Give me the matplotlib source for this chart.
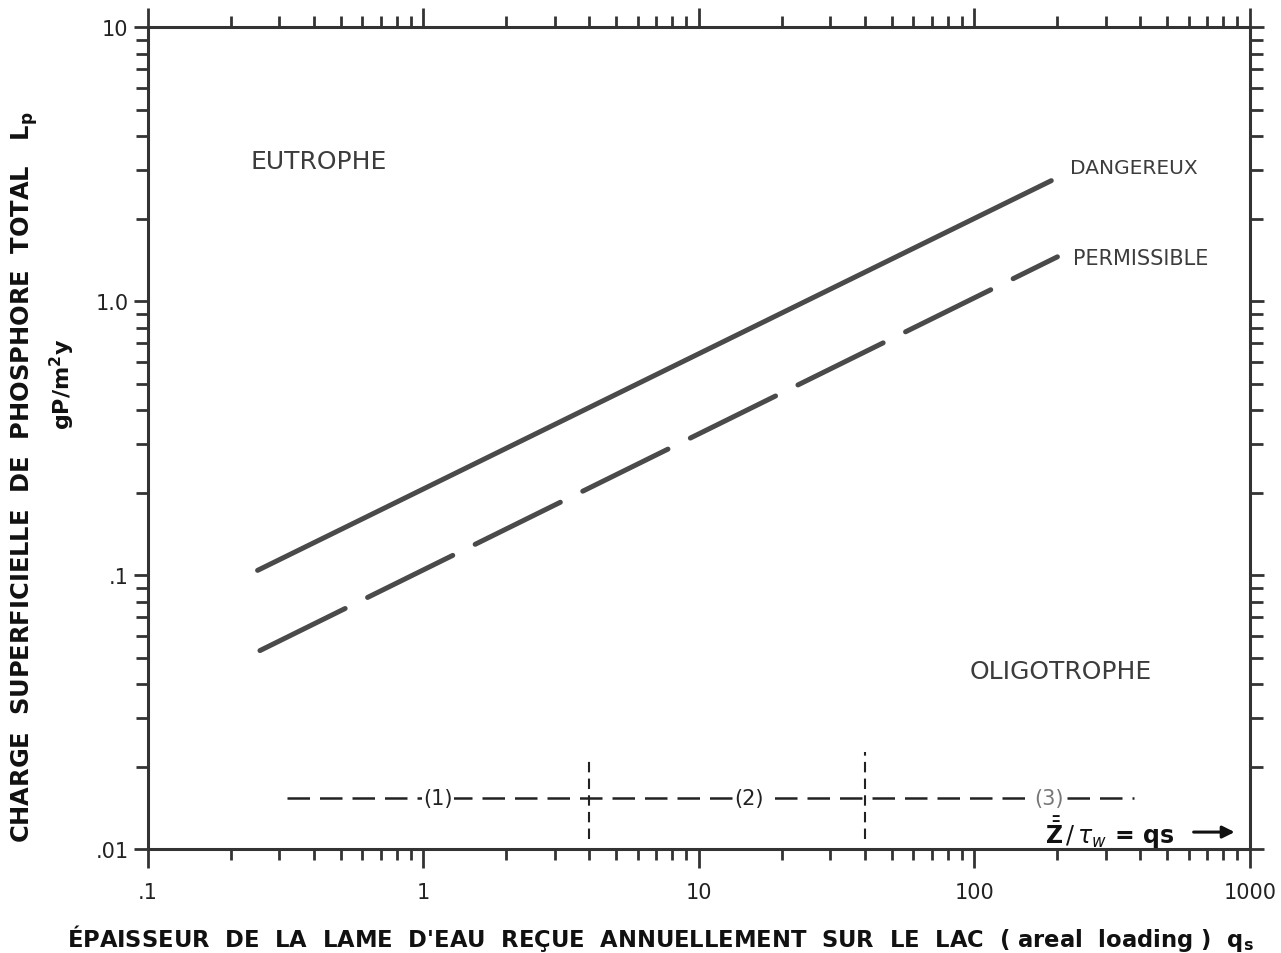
import numpy as np
import matplotlib
matplotlib.use("Agg")
from matplotlib import pyplot as plt
from matplotlib.ticker import FixedLocator, LogLocator, NullFormatter

# (log-log)
danger_x = [0.25, 190]
danger_y = [0.104, 2.75]
permis_x = [0.255, 200]
permis_y = [0.053, 1.45]

zone_x = [0.32, 380]
zone_y = [0.0153, 0.0153]
zone_bounds = [4, 40]
zone_tops = [0.0213, 0.0226]
zone_labels = ["(1)", "(2)", "(3)"]
zone_label_x = [1.13, 15.2, 187]

xticks = [0.1, 1, 10, 100, 1000]
xticklabels = [".1", "1", "10", "100", "1000"]
yticks = [0.01, 0.1, 1.0, 10]
yticklabels = [".01", ".1", "1.0", "10"]

ink = "#3c3c3c"
plt.rcParams['font.family'] = ['DejaVu Sans']

fig = plt.figure(figsize=(12.81, 9.54), dpi=100)
ax = fig.add_axes([0.1155, 0.109, 0.8603, 0.8616])
ax.set_xscale("log")
ax.set_yscale("log")
ax.set_xlim(0.1, 1000)
ax.set_ylim(0.01, 10)

ax.plot(danger_x, danger_y, color="#4a4a4a", lw=3.6, solid_capstyle="round")
ax.plot(permis_x, permis_y, color="#4a4a4a", lw=3.6, dashes=(19, 5),
        dash_capstyle="round")

# zones along the bottom
ax.plot(zone_x, zone_y, color="#222222", lw=1.8, dashes=(9, 4))
for b, top in zip(zone_bounds, zone_tops):
    ax.plot([b, b], [0.0109, top], color="#222222", lw=1.5, dashes=(5, 3))
for lx, lab in zip(zone_label_x, zone_labels):
    ax.text(lx, zone_y[0], lab, ha="center", va="center", fontsize=15,
            color="#222222" if lab != "(3)" else "#777777",
            bbox=dict(facecolor="white", edgecolor="none", pad=1))

ax.text(0.415, 3.25, "EUTROPHE", ha="center", va="center", fontsize=18,
        color=ink)
ax.text(205, 0.0445, "OLIGOTROPHE", ha="center", va="center", fontsize=18,
        color=ink)
ax.text(222, 3.08, "DANGEREUX", ha="left", va="center", fontsize=14.5,
        color=ink)
ax.text(228, 1.43, "PERMISSIBLE", ha="left", va="center", fontsize=15,
        color=ink)

ax.text(310, 0.01153, r"$\bar{\bar{\mathregular{Z}}}\,/\,\tau_w$ = qs",
        ha="center", va="center", fontsize=17, fontweight="bold", color="#111111")
ax.annotate("", xy=(900, 0.01153), xytext=(610, 0.01153),
            arrowprops=dict(arrowstyle="-|>", color="#111111", lw=2.2,
                            mutation_scale=18))

# axes frame and ticks
for s in ax.spines.values():
    s.set_linewidth(2.2)
    s.set_color("#333333")

ax.xaxis.set_major_locator(FixedLocator(xticks))
ax.set_xticklabels(xticklabels)
ax.yaxis.set_major_locator(FixedLocator(yticks))
ax.set_yticklabels(yticklabels)
ax.xaxis.set_minor_locator(LogLocator(base=10, subs=np.arange(2, 10)))
ax.yaxis.set_minor_locator(LogLocator(base=10, subs=np.arange(2, 10)))
ax.xaxis.set_minor_formatter(NullFormatter())
ax.yaxis.set_minor_formatter(NullFormatter())

ax.tick_params(which="both", direction="out", top=True, right=True,
               color="#333333", width=2, labelsize=15, labelcolor="#222222")
ax.tick_params(axis="x", which="major", length=14, pad=10)
ax.tick_params(axis="x", which="minor", length=8)
ax.tick_params(axis="y", which="major", length=10, pad=4)
ax.tick_params(axis="y", which="minor", length=9)

ax.set_xlabel(r"ÉPAISSEUR  DE  LA  LAME  D'EAU  REÇUE  ANNUELLEMENT  SUR  LE  LAC  ( areal  loading )  q$_\mathregular{s}$",
              fontsize=16.3, fontweight="bold", color="#111111", labelpad=14,
              x=0.465)
fig.text(0.019, 0.5, r"CHARGE  SUPERFICIELLE  DE  PHOSPHORE  TOTAL   L$_\mathregular{p}$",
         rotation=90, ha="center", va="center", fontsize=17.4,
         fontweight="bold", color="#111111")
fig.text(0.049, 0.597, r"gP/m$^\mathregular{2}$y", rotation=90, ha="center",
         va="center", fontsize=16, fontweight="bold", color="#111111")

fig.savefig("out.png", dpi=100)
